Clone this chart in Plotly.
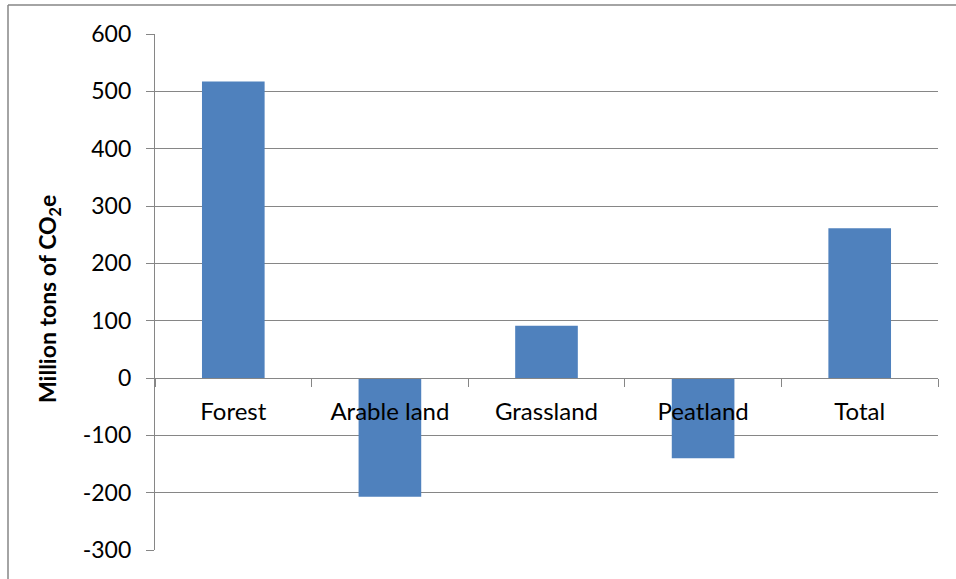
import plotly.graph_objects as go

# Net change per land-use category (million tons CO2e)
categories = ["Forest", "Arable land", "Grassland", "Peatland", "Total"]
values = [517, -207, 91, -140, 261]

y_ticks = [-300, -200, -100, 0, 100, 200, 300, 400, 500, 600]
y_tick_labels = ["-300", "-200", "-100", "0", "100", "200", "300", "400", "500", "600"]
y_title = "Million tons of CO<sub>2</sub>e"

W, H = 956, 579
M_L, M_R, M_T, M_B = 155, 18, 34, 29
plot_w = W - M_L - M_R
plot_h = H - M_T - M_B

grid_color = "#868686"
bar_color = "#4F81BD"
font_family = "Lato, 'Open Sans', sans-serif"

fig = go.Figure(
    go.Bar(
        x=categories,
        y=values,
        marker=dict(color=bar_color, line=dict(width=0)),
    )
)

y_min, y_max = y_ticks[0], y_ticks[-1]

fig.update_layout(
    width=W,
    height=H,
    margin=dict(l=M_L, r=M_R, t=M_T, b=M_B, pad=0),
    paper_bgcolor="white",
    plot_bgcolor="white",
    bargap=0.6,
    showlegend=False,
    font=dict(family=font_family, size=24, color="black"),
    xaxis=dict(
        type="category",
        anchor="free",
        # category axis sits on the zero line of the value axis
        position=(0 - y_min) / (y_max - y_min),
        showline=True,
        linecolor=grid_color,
        linewidth=1.3,
        ticks="outside",
        tickson="boundaries",
        ticklen=8,
        tickcolor=grid_color,
        tickwidth=1.3,
        showgrid=False,
        tickfont=dict(size=24),
        ticklabelstandoff=12,
    ),
    yaxis=dict(
        range=[y_min, y_max],
        tickvals=y_ticks,
        ticktext=y_tick_labels,
        showline=True,
        linecolor=grid_color,
        linewidth=1.3,
        ticks="outside",
        ticklen=8,
        tickcolor=grid_color,
        tickwidth=1.3,
        showgrid=True,
        gridcolor=grid_color,
        gridwidth=1.3,
        zeroline=False,
        tickfont=dict(size=23),
        ticklabelstandoff=10,
        automargin=False,
    ),
)

# Rotated value-axis title
fig.add_annotation(
    text=y_title,
    xref="paper", yref="paper",
    x=(48 - M_L) / plot_w, y=(H - M_B - 299) / plot_h,
    xanchor="center", yanchor="middle",
    textangle=-90,
    showarrow=False,
    font=dict(size=23, family=font_family, weight="bold", color="black"),
)

# Outer frame: top and left edges of the chart border
left_x = (8 - M_L) / plot_w
right_x = (W + 5 - M_L) / plot_w
top_y = (H - M_B - 5) / plot_h
bottom_y = (-M_B - 5) / plot_h
fig.add_shape(type="line", xref="paper", yref="paper",
              x0=left_x, x1=right_x, y0=top_y, y1=top_y,
              line=dict(color=grid_color, width=1.5))
fig.add_shape(type="line", xref="paper", yref="paper",
              x0=left_x, x1=left_x, y0=bottom_y, y1=top_y,
              line=dict(color=grid_color, width=1.5))

fig.write_html("out.html")
